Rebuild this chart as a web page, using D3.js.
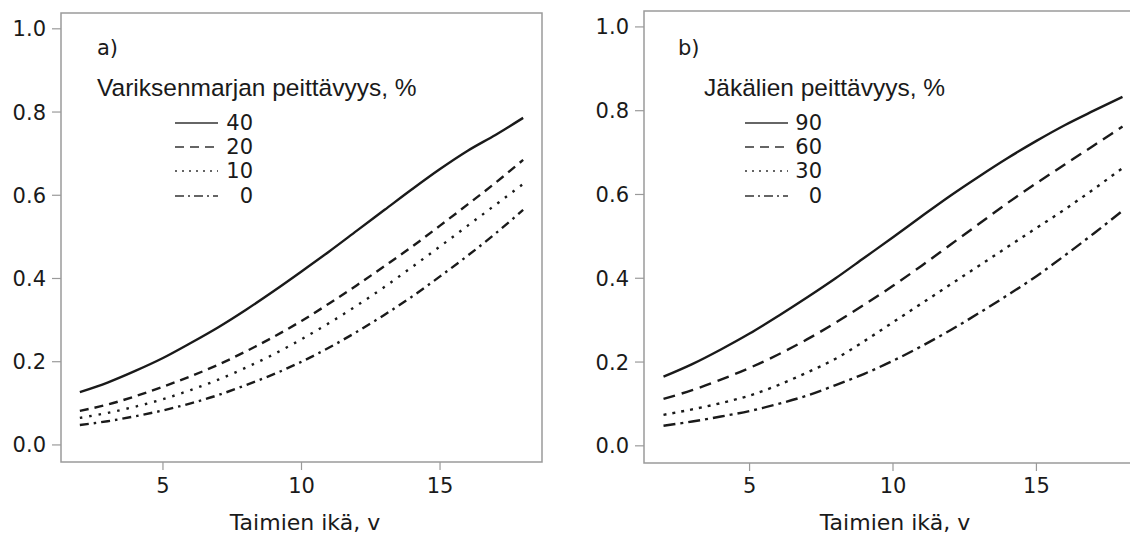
<!DOCTYPE html>
<html>
<head>
  <meta charset="utf-8">
  <script src="https://d3js.org/d3.v7.min.js"></script>
  <style>
    body { margin: 0; background: #fff; }
    .tick-label { font: 21px "DejaVu Sans", sans-serif; fill: #1a1a1a; }
    .axis-title { font: 22px "DejaVu Sans", sans-serif; fill: #1a1a1a; text-anchor: middle; }
    .panel-tag { font: 21px "DejaVu Sans", sans-serif; fill: #1a1a1a; }
    .legend-title { font: 24.5px "Liberation Sans", Arial, sans-serif; fill: #1a1a1a; }
    .legend-num { font: 21px "DejaVu Sans", sans-serif; fill: #1a1a1a; text-anchor: end; }
  </style>
</head>
<body>
  <svg width="1130" height="536"></svg>
  <script>
    // ages (x) shared by both panels
    var ages = [2, 3, 4, 5, 6, 7, 8, 9, 10, 11, 12, 13, 14, 15, 16, 17, 18];
    var xTicks = [5, 10, 15];
    var yTicks = [0.0, 0.2, 0.4, 0.6, 0.8, 1.0];

    // panel a: crowberry cover
    var crowLevels = ["40", "20", "10", "0"];
    var crow40 = [0.127, 0.150, 0.178, 0.209, 0.245, 0.283, 0.325, 0.370, 0.417, 0.465, 0.515, 0.565, 0.615, 0.663, 0.707, 0.745, 0.786];
    var crow20 = [0.082, 0.097, 0.117, 0.140, 0.165, 0.193, 0.225, 0.260, 0.298, 0.340, 0.384, 0.430, 0.477, 0.527, 0.578, 0.630, 0.685];
    var crow10 = [0.065, 0.077, 0.092, 0.110, 0.132, 0.157, 0.186, 0.218, 0.254, 0.293, 0.335, 0.380, 0.428, 0.477, 0.527, 0.577, 0.627];
    var crow0  = [0.048, 0.057, 0.069, 0.083, 0.100, 0.120, 0.144, 0.170, 0.200, 0.234, 0.272, 0.313, 0.357, 0.405, 0.455, 0.508, 0.565];

    // panel b: lichen cover
    var lichenLevels = ["90", "60", "30", "0"];
    var lichen90 = [0.165, 0.195, 0.230, 0.268, 0.310, 0.354, 0.400, 0.449, 0.498, 0.548, 0.597, 0.643, 0.687, 0.728, 0.766, 0.800, 0.833];
    var lichen60 = [0.112, 0.133, 0.158, 0.186, 0.218, 0.254, 0.294, 0.337, 0.382, 0.430, 0.480, 0.530, 0.580, 0.627, 0.672, 0.717, 0.762];
    var lichen30 = [0.074, 0.087, 0.102, 0.120, 0.145, 0.175, 0.208, 0.250, 0.295, 0.340, 0.385, 0.430, 0.475, 0.520, 0.565, 0.613, 0.663];
    var lichen0  = [0.048, 0.058, 0.070, 0.083, 0.100, 0.120, 0.145, 0.172, 0.203, 0.238, 0.276, 0.317, 0.360, 0.405, 0.455, 0.507, 0.561];

    var svg = d3.select("svg");

    var panels = [
      {tag: "a)", title: "Variksenmarjan peittävyys, %", levels: crowLevels,
       series: [crow40, crow20, crow10, crow0],
       box: {left: 61, right: 542, top: 13, bottom: 462},
       dash: ["none", "9,6", "2.5,7", "9,5,2.5,5"],
       tagX: 97, titleX: 97, legX1: 175, legX2: 218, numX: 253, axisTitleX: 305},
      {tag: "b)", title: "Jäkälien peittävyys, %", levels: lichenLevels,
       series: [lichen90, lichen60, lichen30, lichen0],
       box: {left: 644, right: 1142, top: 11, bottom: 463},
       dash: ["none", "12,7", "3,6", "12,5,3,5"],
       tagX: 678, titleX: 704, legX1: 745, legX2: 788, numX: 822, axisTitleX: 895}
    ];

    var legendDash = ["none", "9,6", "2,5", "9,4,2,4"];
    var rowY = [130, 154, 178, 203];

    panels.forEach(function(p) {
      var x = d3.scaleLinear().domain([1.32, 18.68]).range([p.box.left, p.box.right]);
      var y = d3.scaleLinear().domain([-0.041, 1.038]).range([p.box.bottom, p.box.top]);

      var g = svg.append("g");

      g.append("rect")
        .attr("x", p.box.left).attr("y", p.box.top)
        .attr("width", p.box.right - p.box.left)
        .attr("height", p.box.bottom - p.box.top)
        .attr("fill", "#fff")
        .attr("stroke", "#9a9a9a")
        .attr("stroke-width", 1.5);

      // y axis ticks
      g.selectAll(".ytick").data(yTicks).enter().append("line")
        .attr("x1", p.box.left - 9).attr("x2", p.box.left)
        .attr("y1", d => y(d)).attr("y2", d => y(d))
        .attr("stroke", "#9a9a9a").attr("stroke-width", 1.2);
      g.selectAll(".ylab").data(yTicks).enter().append("text")
        .attr("class", "tick-label")
        .attr("x", p.box.left - 15)
        .attr("y", d => y(d))
        .attr("dy", "0.36em")
        .attr("text-anchor", "end")
        .text(d => d3.format(".1f")(d));

      // x axis ticks
      g.selectAll(".xtick").data(xTicks).enter().append("line")
        .attr("x1", d => x(d)).attr("x2", d => x(d))
        .attr("y1", p.box.bottom).attr("y2", p.box.bottom + 8)
        .attr("stroke", "#9a9a9a").attr("stroke-width", 1.2);
      g.selectAll(".xlab").data(xTicks).enter().append("text")
        .attr("class", "tick-label")
        .attr("x", d => x(d))
        .attr("y", 493)
        .attr("text-anchor", "middle")
        .text(d => d);

      g.append("text")
        .attr("class", "axis-title")
        .attr("x", p.axisTitleX)
        .attr("y", 530)
        .text("Taimien ikä, v");

      // curves
      var line = d3.line()
        .x((d, i) => x(ages[i]))
        .y(d => y(d))
        .curve(d3.curveMonotoneX);

      g.selectAll(".curve").data(p.series).enter().append("path")
        .attr("d", d => line(d))
        .attr("fill", "none")
        .attr("stroke", "#1a1a1a")
        .attr("stroke-width", 2.4)
        .attr("stroke-dasharray", (d, i) => p.dash[i]);

      // legend
      g.append("text").attr("class", "panel-tag")
        .attr("x", p.tagX).attr("y", 55).text(p.tag);
      g.append("text").attr("class", "legend-title")
        .attr("x", p.titleX).attr("y", 96).text(p.title);

      p.levels.forEach(function(lv, i) {
        g.append("line")
          .attr("x1", p.legX1).attr("x2", p.legX2)
          .attr("y1", rowY[i] - 7).attr("y2", rowY[i] - 7)
          .attr("stroke", "#333")
          .attr("stroke-width", 1.6)
          .attr("stroke-dasharray", legendDash[i]);
        g.append("text").attr("class", "legend-num")
          .attr("x", p.numX).attr("y", rowY[i]).text(lv);
      });
    });
  </script>
</body>
</html>
